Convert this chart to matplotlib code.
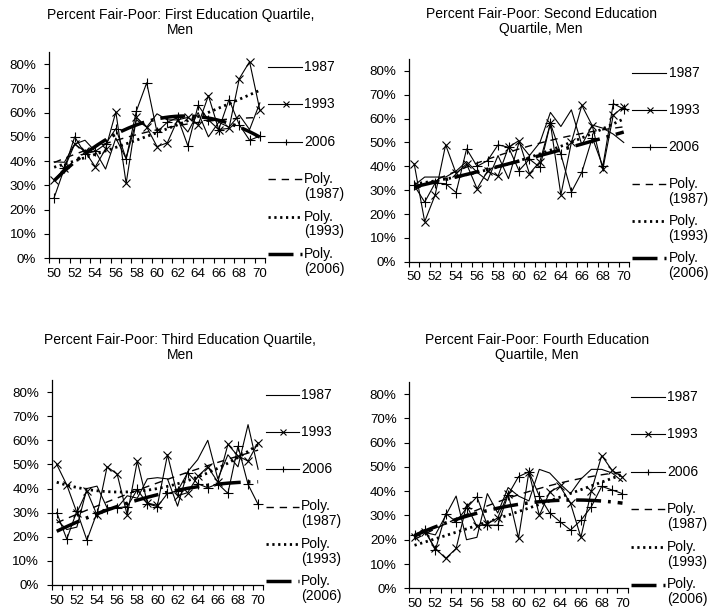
import numpy as np
import matplotlib
matplotlib.use("Agg")
import matplotlib.pyplot as plt
from matplotlib import transforms

plt.rcParams["font.family"] = ["Liberation Sans", "DejaVu Sans"]
plt.rcParams["lines.scale_dashes"] = False

ages = np.arange(50, 71)

# share reporting fair/poor health, by age, for each survey year
q1_1987 = [39.7, 39.5, 47, 48.6, 44, 36.7, 49.5, 41, 57, 54, 59.5, 57, 57, 52, 60, 50, 56, 54, 59, 53, 64]
q1_1993 = [32, 37, 47, 44, 37.6, 45, 60.3, 30.8, 58, 54, 46, 47.5, 57, 58, 55, 67, 53, 53.5, 74, 81, 61]
q1_2006 = [24.9, 37, 50, 43, 44, 47, 53.4, 41, 60.7, 72.3, 52, 56, 58, 46.3, 63, 57, 53, 65.4, 55, 48.6, 50.3]

q2_1987 = [32, 35.5, 35.5, 35.5, 38, 42, 37.5, 34, 44.5, 34.8, 50, 44.5, 50, 62.6, 56.7, 63.7, 49, 57.3, 56, 53.5, 50]
q2_1993 = [41, 16.8, 28, 49, 37, 41, 30.6, 38, 35.9, 48, 50.8, 36.9, 42, 58, 28, 50, 65.6, 57, 38.7, 61.5, 65]
q2_2006 = [32, 25, 33, 32.7, 29, 47.3, 40, 42.4, 49, 48, 38.2, 43, 39.6, 58, 45, 29.2, 37.5, 52, 40, 66.3, 64]

q3_1987 = [27, 23, 24, 40, 41, 32, 32, 37, 36, 44, 44.5, 44, 32.7, 47, 52, 60, 44, 54, 49, 66.5, 48]
q3_1993 = [50, 41.5, 30, 39, 29, 49, 46, 29, 51.4, 34, 33, 54, 37, 38.3, 45, 49, 42.7, 58.3, 53.5, 51.4, 59]
q3_2006 = [30, 19, 30.7, 18.6, 30, 31.4, 32, 32.5, 39.6, 33.7, 32.5, 38, 39, 46.5, 42, 40.3, 42, 38, 57.6, 41.7, 33.4]

q4_1987 = [22, 23, 22, 30, 38, 20, 21, 39, 31, 41.5, 38, 36, 49, 47.5, 43, 39, 45, 49, 49, 47.5, 44]
q4_1993 = [21, 23.3, 16.4, 12.3, 16.4, 34.2, 25.5, 26.5, 29, 39, 20.6, 48, 30, 39.7, 42, 35, 21, 40, 54.7, 48.6, 45.8]
q4_2006 = [22, 24.2, 15.7, 30.8, 27.4, 33, 37.7, 26, 26, 38.5, 46, 48, 38, 31, 27.4, 24, 28, 33.6, 42, 40.5, 39]

titles = [
    "Percent Fair-Poor: First Education Quartile,\nMen",
    "Percent Fair-Poor: Second Education\nQuartile, Men",
    "Percent Fair-Poor: Third Education Quartile,\nMen",
    "Percent Fair-Poor: Fourth Education\nQuartile, Men",
]
years = ["1987", "1993", "2006"]
panels = [
    (q1_1987, q1_1993, q1_2006),
    (q2_1987, q2_1993, q2_2006),
    (q3_1987, q3_1993, q3_2006),
    (q4_1987, q4_1993, q4_2006),
]

# axes rects and title anchors (figure fractions)
rects = [
    (0.0688, 0.5777, 0.3034, 0.3372),
    (0.5744, 0.5717, 0.3090, 0.3317),
    (0.0726, 0.0426, 0.2970, 0.3354),
    (0.5749, 0.0372, 0.3067, 0.3376),
]
title_xy = [(0.254, 0.963), (0.760, 0.965), (0.253, 0.431), (0.754, 0.431)]

series_style = [
    dict(marker=None),
    dict(marker="x", markersize=5.8, markeredgewidth=0.8),
    dict(marker="+", markersize=6.5, markeredgewidth=0.8),
]
trend_style = [
    dict(linewidth=1.0, linestyle=(0, (5.3, 4.2))),
    dict(linewidth=2.0, linestyle=(0, (1.6, 2.6)), dash_capstyle="butt"),
    dict(linewidth=2.5, linestyle=(0, (18, 5, 2.0, 5)), dash_capstyle="butt"),
]

fig = plt.figure(figsize=(7.12, 6.11), dpi=100)

for i, series in enumerate(panels):
    ax = fig.add_axes(rects[i])
    xx = np.linspace(ages[0], ages[-1], 200)

    for vals, st in zip(series, series_style):
        ax.plot(ages, np.array(vals) / 100, color="black", linewidth=0.8, **st)

    # second order polynomial trendlines
    for vals, st in zip(series, trend_style):
        coef = np.polyfit(ages, np.array(vals) / 100, 2)
        ax.plot(xx, np.polyval(coef, xx), color="black", **st)

    ax.set_xlim(49.5, 70.5)
    ax.set_ylim(0, 0.85)
    yt = np.arange(0, 0.81, 0.1)
    ax.set_yticks(yt)
    ax.set_yticklabels([f"{int(round(v * 100))}%" for v in yt])
    ax.set_xticks(ages[::2])
    ax.set_xticks(np.arange(49.5, 71, 1), minor=True)
    ax.tick_params(axis="x", which="major", length=0, labelsize=9.6, pad=7)
    ax.tick_params(axis="x", which="minor", length=3.6, width=0.8, direction="out")
    ax.tick_params(axis="y", length=3.6, width=0.8, direction="out", labelsize=9.6, pad=5.5)
    for side in ["top", "right"]:
        ax.spines[side].set_visible(False)
    for side in ["left", "bottom"]:
        ax.spines[side].set_linewidth(0.9)

    fig.text(title_xy[i][0], title_xy[i][1], titles[i], ha="center", va="center",
             fontsize=10, linespacing=1.08)

    # legend on the right of the plot area
    tr = transforms.blended_transform_factory(ax.transAxes, ax.transData)
    labels = years + [f"Poly.\n({y})" for y in years]
    styles = [dict(linewidth=0.8, **s) for s in series_style] + trend_style
    for k, (lab, st) in enumerate(zip(labels, styles)):
        yk = 0.79 - k * 0.155
        st = dict(st)
        if st.get("marker"):
            st["markevery"] = [1]
            st["markersize"] = 5
        ax.plot([1.015, 1.095, 1.17], [yk] * 3, color="black", transform=tr,
                clip_on=False, **st)
        if "\n" in lab:
            ax.text(1.18, yk + 0.03, lab, transform=tr, fontsize=10, va="top",
                    linespacing=1.08)
        else:
            ax.text(1.18, yk, lab, transform=tr, fontsize=10, va="center")

fig.savefig("out.png", dpi=100)
